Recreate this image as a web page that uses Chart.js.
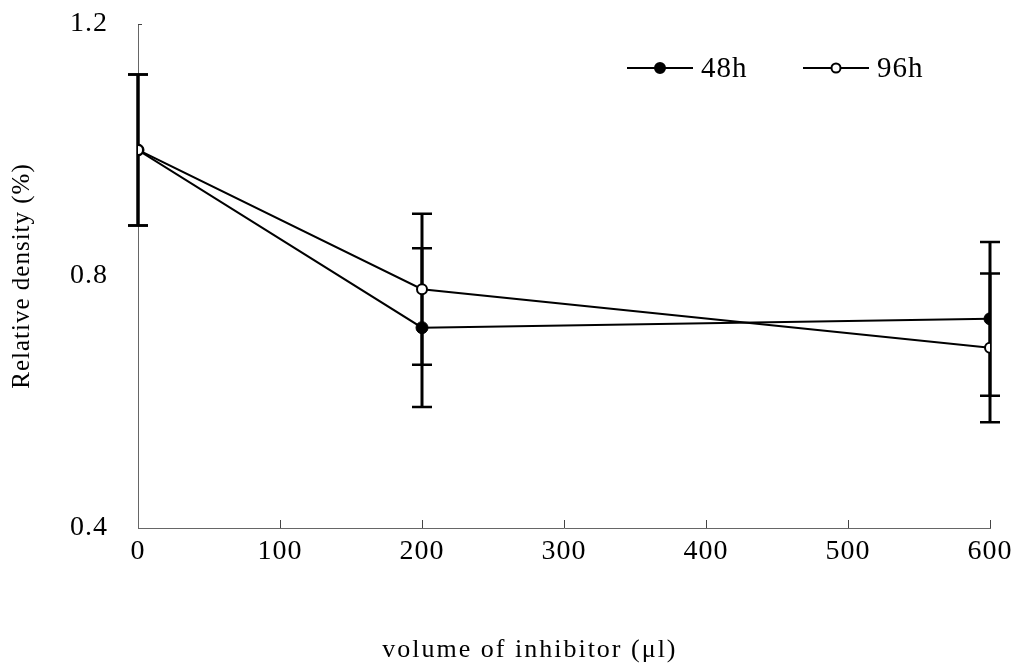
<!DOCTYPE html>
<html>
<head>
<meta charset="utf-8">
<script src="https://cdn.jsdelivr.net/npm/chart.js@4.4.1/dist/chart.umd.min.js"></script>
<style>
  body { margin: 0; background: #fff; }
  #wrap { width: 1019px; height: 668px; position: relative; }
</style>
</head>
<body>
<div id="wrap"><canvas id="chart"></canvas></div>
<script>
// volume of inhibitor (µl)
const volumes = [0, 200, 600];
const seriesNames = ['48h', '96h'];
// relative density
const density48 = [1.0, 0.718, 0.732];
const density96 = [1.0, 0.779, 0.686];
// error bar half-heights
const err48 = [0.12, 0.126, 0.122];
const err96 = [0.12, 0.12, 0.118];
const xTicks = [0, 100, 200, 300, 400, 500, 600];
const yTicks = [0.4, 0.8, 1.2];
const xTitle = 'volume of inhibitor (μl)';
const yTitle = 'Relative density (%)';

const serif = '"Liberation Serif", "Times New Roman", serif';

function toPoints(vals) {
  return volumes.map((v, i) => ({ x: v, y: vals[i] }));
}

// vertical error bars with caps, drawn under the markers
const errorBars = {
  id: 'errorBars',
  beforeDatasetsDraw(chart) {
    const { ctx, scales: { x, y } } = chart;
    ctx.save();
    ctx.strokeStyle = '#000';
    chart.data.datasets.forEach(ds => {
      ds.data.forEach((pt, i) => {
        const px = x.getPixelForValue(pt.x);
        const top = y.getPixelForValue(pt.y + ds.errors[i]);
        const bot = y.getPixelForValue(pt.y - ds.errors[i]);
        ctx.lineWidth = 3;
        ctx.beginPath();
        ctx.moveTo(px, top);
        ctx.lineTo(px, bot);
        ctx.stroke();
        ctx.lineWidth = 2.5;
        ctx.beginPath();
        ctx.moveTo(px - 10, top); ctx.lineTo(px + 10, top);
        ctx.moveTo(px - 10, bot); ctx.lineTo(px + 10, bot);
        ctx.stroke();
      });
    });
    ctx.restore();
  }
};

// small inward tick marks and the x title (placed a little left of centre, as in the scan)
const axisExtras = {
  id: 'axisExtras',
  afterDraw(chart) {
    const { ctx, scales: { x, y } } = chart;
    ctx.save();
    ctx.letterSpacing = '0px';
    ctx.strokeStyle = '#444';
    ctx.lineWidth = 1;
    ctx.beginPath();
    xTicks.slice(1).forEach(v => {
      const px = Math.round(x.getPixelForValue(v)) + 0.5;
      ctx.moveTo(px, y.bottom);
      ctx.lineTo(px, y.bottom - 8);
    });
    const py = Math.round(y.getPixelForValue(yTicks[yTicks.length - 1])) + 0.5;
    ctx.moveTo(x.left, py);
    ctx.lineTo(x.left + 4, py);
    ctx.stroke();

    ctx.fillStyle = '#000';
    ctx.font = '26px ' + serif;
    ctx.letterSpacing = '2px';
    ctx.textAlign = 'center';
    ctx.textBaseline = 'alphabetic';
    ctx.fillText(xTitle, x.left + (x.right - x.left) * 0.46, 657);
    ctx.restore();
  }
};

// legend: line + marker + label, top right
const lineLegend = {
  id: 'lineLegend',
  afterDraw(chart) {
    const { ctx } = chart;
    const starts = [627, 803];
    const yy = 68;
    chart.data.datasets.forEach((ds, i) => {
      const x0 = starts[i];
      ctx.save();
      ctx.strokeStyle = '#000';
      ctx.lineWidth = 2;
      ctx.beginPath();
      ctx.moveTo(x0, yy);
      ctx.lineTo(x0 + 66, yy);
      ctx.stroke();
      ctx.beginPath();
      ctx.arc(x0 + 33, yy, i === 0 ? 5 : 4.5, 0, Math.PI * 2);
      ctx.fillStyle = ds.pointBackgroundColor;
      ctx.fill();
      ctx.stroke();
      ctx.fillStyle = '#000';
      ctx.font = '29px ' + serif;
      ctx.textBaseline = 'middle';
      ctx.letterSpacing = '1px';
      ctx.fillText(ds.label, x0 + 74, yy + 1);
      ctx.restore();
    });
  }
};

// scanned figure has loosely spaced letters
const spacing = {
  id: 'spacing',
  beforeDraw(chart) { chart.ctx.letterSpacing = '1px'; },
  afterDraw(chart) { chart.ctx.letterSpacing = '0px'; }
};

new Chart(document.getElementById('chart'), {
  type: 'line',
  data: {
    datasets: [
      {
        label: seriesNames[0],
        data: toPoints(density48),
        errors: err48,
        order: 1,
        borderColor: '#000',
        borderWidth: 2,
        pointRadius: 6,
        pointBackgroundColor: '#000',
        pointBorderColor: '#000',
        pointBorderWidth: 1,
        tension: 0
      },
      {
        label: seriesNames[1],
        data: toPoints(density96),
        errors: err96,
        order: 0,
        borderColor: '#000',
        borderWidth: 2,
        pointRadius: 5,
        pointBackgroundColor: '#fff',
        pointBorderColor: '#000',
        pointBorderWidth: 2,
        tension: 0
      }
    ]
  },
  options: {
    responsive: true,
    maintainAspectRatio: false,
    animation: false,
    layout: { padding: { top: 24, right: 29, bottom: 0, left: 0 } },
    plugins: {
      legend: { display: false },
      tooltip: { enabled: false }
    },
    scales: {
      x: {
        type: 'linear',
        min: 0,
        max: 600,
        afterBuildTicks: s => { s.ticks = xTicks.map(v => ({ value: v })); },
        afterFit: s => { s.height = 140; },
        grid: { display: false, drawTicks: false },
        border: { display: true, color: '#666', width: 1, dash: [6, 2] },
        ticks: {
          color: '#000',
          padding: 7,
          maxRotation: 0,
          font: { family: serif, size: 28 }
        },
        title: { display: false }
      },
      y: {
        type: 'linear',
        min: 0.4,
        max: 1.2,
        afterBuildTicks: s => { s.ticks = yTicks.map(v => ({ value: v })); },
        afterFit: s => { s.width = 138; s.paddingTop = 0; s.paddingBottom = 0; },
        grid: { display: false, drawTicks: false },
        border: { display: true, color: '#666', width: 1, dash: [6, 2] },
        ticks: {
          color: '#000',
          padding: 30,
          font: { family: serif, size: 28 },
          callback: v => v.toFixed(1)
        },
        title: {
          display: true,
          text: yTitle,
          color: '#000',
          font: { family: serif, size: 25 },
          padding: { top: 7, bottom: 0 }
        }
      }
    }
  },
  plugins: [spacing, errorBars, axisExtras, lineLegend]
});
</script>
</body>
</html>
